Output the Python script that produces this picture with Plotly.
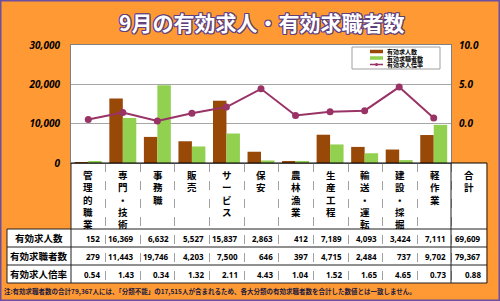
import plotly.graph_objects as go

# --------------------------------------------------
# datos
categorias = ['管理的職業', '専門・技術', '事務職', '販売', 'サービス', '保安',
              '農林漁業', '生産工程', '輸送・運転', '建設・採掘', '軽作業']
cat_total = '合計'
求人数 = [152, 16369, 6632, 5527, 15837, 2863, 412, 7189, 4093, 3424, 7111]
求職者数 = [279, 11443, 19746, 4203, 7500, 646, 397, 4715, 2484, 737, 9702]
倍率 = [0.54, 1.43, 0.34, 1.32, 2.11, 4.43, 1.04, 1.52, 1.65, 4.65, 0.73]
total_求人数 = 69609
total_求職者数 = 79367
total_倍率 = 0.88

row_labels = ['有効求人数', '有効求職者数', '有効求人倍率']
serie_names = ['有効求人数', '有効求職者数', '有効求人倍率']
title = '9月の有効求人・有効求職者数'
nota = ('注:有効求職者数の合計79,367人には、「分類不能」の17,515人が含まれるため、'
        '各大分類の有効求職者数を合計した数値とは一致しません。')

W, H = 500, 301
ORANGE = '#FF9933'
BROWN = '#984807'
GREEN = '#92D050'
PURPLE = '#993366'
JP = 'Noto Sans CJK JP'


def X(px):
    return px / W


def Y(py):
    return 1 - py / H


cats_all = categorias + [cat_total]

fig = go.Figure()
fig.add_trace(go.Bar(x=categorias, y=求人数, name=serie_names[0],
                     marker=dict(color=BROWN, line=dict(width=0))))
fig.add_trace(go.Bar(x=categorias, y=求職者数, name=serie_names[1],
                     marker=dict(color=GREEN, line=dict(width=0))))
fig.add_trace(go.Scatter(x=categorias, y=倍率, name=serie_names[2], yaxis='y2',
                         mode='lines+markers',
                         line=dict(color=PURPLE, width=2),
                         marker=dict(color=PURPLE, size=7)))
# eje auxiliar para la tabla
fig.add_trace(go.Scatter(x=cats_all, y=[None] * len(cats_all), xaxis='x2', yaxis='y3',
                         showlegend=False, hoverinfo='skip'))

tick_font = dict(family='Noto Sans', size=10, color='black', weight='bold', style='italic')
fig.update_layout(
    width=W, height=H,
    margin=dict(l=0, r=0, t=0, b=0),
    paper_bgcolor=ORANGE, plot_bgcolor='white',
    showlegend=False,
    barmode='group', bargap=0.22, bargroupgap=0,
    xaxis=dict(domain=[X(71), X(451)], type='category', categoryarray=categorias,
               range=[-0.5, 10.5], showticklabels=False, ticks='',
               showline=True, mirror=True, linecolor='#808080', showgrid=False,
               automargin=False),
    yaxis=dict(domain=[Y(163), Y(45)], range=[0, 30000],
               tickvals=[0, 10000, 20000, 30000], tickformat=',',
               tickfont=tick_font, ticklabelstandoff=8,
               showgrid=True, gridcolor='#a6a6a6', zeroline=False,
               showline=True, mirror=True, linecolor='#808080', automargin=False),
    yaxis2=dict(overlaying='y', side='right', range=[-5, 10],
                tickvals=[0, 5, 10], tickformat='.1f', tickfont=tick_font,
                ticklabelstandoff=7, showgrid=False, zeroline=False,
                showline=False, automargin=False),
    xaxis2=dict(domain=[X(71), X(486.5)], anchor='y3', type='category',
                categoryarray=cats_all, range=[-0.5, 11.5],
                showticklabels=False, ticks='', tickson='boundaries',
                showgrid=True, gridcolor='#a0a0a0', griddash='dash', gridwidth=1,
                showline=False, automargin=False),
    yaxis3=dict(domain=[Y(283), Y(163)], anchor='x2', range=[0, 1], visible=False,
                showgrid=False, zeroline=False),
)

shapes = []
# columna de etiquetas de filas
shapes.append(dict(type='rect', xref='paper', yref='paper', layer='below',
                   x0=X(7), x1=X(71), y0=Y(283), y1=Y(229),
                   fillcolor='white', line=dict(width=0)))
# líneas horizontales de la tabla
for yy in [229, 247, 265, 283]:
    shapes.append(dict(type='line', xref='paper', yref='paper',
                       x0=X(7), x1=X(487), y0=Y(yy), y1=Y(yy),
                       line=dict(color='#202020', width=1)))
shapes.append(dict(type='line', xref='paper', yref='paper',
                   x0=X(71), x1=X(487), y0=Y(163), y1=Y(163),
                   line=dict(color='black', width=1)))
# bordes verticales sólidos
for xx, y_top in [(7, 229), (71, 163), (451, 163), (487, 163)]:
    shapes.append(dict(type='line', xref='paper', yref='paper',
                       x0=X(xx), x1=X(xx), y0=Y(283), y1=Y(y_top),
                       line=dict(color='#202020', width=1)))

# leyenda manual
shapes.append(dict(type='rect', xref='paper', yref='paper',
                   x0=X(352), x1=X(440), y0=Y(69), y1=Y(47),
                   fillcolor='white', line=dict(color='#a0a0a0', width=1)))
leg_y = [51.5, 58, 64.5]
leg_col = [BROWN, GREEN, PURPLE]
leg_w = [3.5, 3.5, 1.5]
for yy, cc, ww in zip(leg_y, leg_col, leg_w):
    shapes.append(dict(type='line', xref='paper', yref='paper',
                       x0=X(370), x1=X(383), y0=Y(yy), y1=Y(yy),
                       line=dict(color=cc, width=ww)))
shapes.append(dict(type='circle', xref='paper', yref='paper',
                   x0=X(375), x1=X(378), y0=Y(66), y1=Y(63),
                   fillcolor=PURPLE, line=dict(width=0)))

# borde exterior
shapes.append(dict(type='rect', xref='paper', yref='paper',
                   x0=0, x1=1, y0=0, y1=1,
                   line=dict(color='#6E4E9E', width=3)))
fig.update_layout(shapes=shapes)

ann = []
outline = ', '.join(f'{dx}px {dy}px 0 #5E3F7E' for dx in (-1, 0, 1) for dy in (-1, 0, 1)
                    if dx or dy)
ann.append(dict(text=title, xref='paper', yref='paper', x=X(261), y=Y(22),
                showarrow=False, xanchor='center', yanchor='middle',
                font=dict(family=JP, size=21, color='white', weight='bold', shadow=outline)))

for name, yy in zip(serie_names, leg_y):
    ann.append(dict(text=name, xref='paper', yref='paper', x=X(385), y=Y(yy),
                    showarrow=False, xanchor='left', yanchor='middle',
                    font=dict(family=JP, size=6, color='black', weight='bold')))

# etiquetas verticales de categorías
for c in cats_all:
    ann.append(dict(text='<br>'.join(list(c)), xref='x2', yref='paper', x=c, y=Y(166),
                    showarrow=False, xanchor='center', yanchor='top',
                    font=dict(family=JP, size=9.5, color='black', weight='bold')))

# filas de la tabla
filas = [
    [f'{v:,}' for v in 求人数] + [f'{total_求人数:,}'],
    [f'{v:,}' for v in 求職者数] + [f'{total_求職者数:,}'],
    [f'{v:.2f}' for v in 倍率] + [f'{total_倍率:.2f}'],
]
row_y = [238, 256, 274]
for lab, fila, yy in zip(row_labels, filas, row_y):
    ann.append(dict(text=lab, xref='paper', yref='paper', x=X(39), y=Y(yy),
                    showarrow=False, xanchor='center', yanchor='middle',
                    font=dict(family=JP, size=9.5, color='black', weight='bold')))
    for i, txt in enumerate(fila):
        ann.append(dict(text=txt, xref='x2', yref='paper', x=i + 0.39, y=Y(yy),
                        showarrow=False, xanchor='right', yanchor='middle',
                        font=dict(family='Noto Sans', size=8, color='black', weight='bold')))

ann.append(dict(text=nota, xref='paper', yref='paper', x=X(2), y=Y(291),
                showarrow=False, xanchor='left', yanchor='middle',
                font=dict(family=JP, size=6.5, color='#1a1a40', weight='bold')))
fig.update_layout(annotations=ann)

fig.write_html('out.html', config={'displayModeBar': False},
               post_script="document.body.style.margin='0';")
